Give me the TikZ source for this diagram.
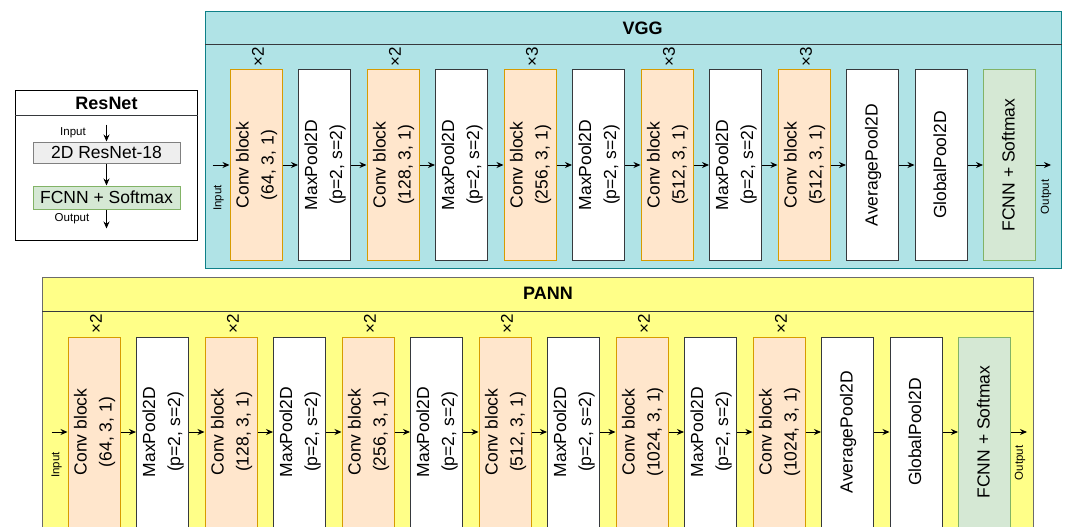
\documentclass[tikz,border=0pt]{standalone}
\usepackage{fontspec}
\setmainfont{Liberation Sans}
\usetikzlibrary{arrows.meta, positioning, calc}
\definecolor{vggbg}{HTML}{B0E3E6}
\definecolor{vggline}{HTML}{0E8088}
\definecolor{pannbg}{HTML}{FFFF88}
\definecolor{pannline}{HTML}{6B6B6B}
\definecolor{convbg}{HTML}{FFE6CC}
\definecolor{convline}{HTML}{D79B00}
\definecolor{fcbg}{HTML}{D5E8D4}
\definecolor{fcline}{HTML}{82B366}
\definecolor{resbg}{HTML}{EEEEEE}
\definecolor{darkline}{HTML}{36393D}

\newcommand{\vtext}[1]{\rotatebox{90}{\begin{tabular}{@{}c@{}}#1\end{tabular}}}

\begin{document}
\begin{tikzpicture}[
    x=1pt, y=1pt,
    >={Stealth[length=7pt,width=6pt]},
    block/.style={draw, line width=1pt, minimum width=52pt, minimum height=190pt,
                  inner sep=0pt, font=\fontsize{17.5}{25}\selectfont},
    conv/.style={block, fill=convbg, draw=convline},
    pool/.style={block, fill=white, draw=darkline},
    fcnn/.style={block, fill=fcbg, draw=fcline},
    panel/.style={line width=1pt, anchor=north west, inner sep=0pt},
    title/.style={font=\fontsize{18}{20}\selectfont\bfseries},
    tag/.style={font=\fontsize{11.5}{13}\selectfont, inner sep=0pt},
    mult/.style={font=\fontsize{17}{18}\selectfont, inner sep=0pt, anchor=south},
    arrow/.style={->, line width=1pt, color=black},
]
    \useasboundingbox (0,0) rectangle (1065,-527);
    \clip (0,0) rectangle (1065,-527);

    % ResNet panel
    \node[panel, draw=black, fill=white, minimum width=182pt, minimum height=150pt] (resnet) at (15,-90) {};
    \draw[line width=1pt, darkline] ($(resnet.north west)+(0,-25)$) -- ($(resnet.north east)+(0,-25)$);
    \node[title] at ($(resnet.north)+(0,-13)$) {ResNet};
    \node[draw=gray, fill=resbg, line width=1pt, minimum width=147pt, minimum height=21pt, inner sep=0pt,
          font=\fontsize{17.5}{20}\selectfont] (r1) at (106.5,-152.5) {2D ResNet-18};
    \node[draw=fcline, fill=fcbg, line width=1pt, minimum width=147pt, minimum height=23pt, inner sep=0pt,
          font=\fontsize{17.5}{20}\selectfont, below=22pt of r1] (r2) {FCNN + Softmax};
    \coordinate (rin) at ($(r1.north)+(0,17)$);
    \coordinate (rout) at ($(r2.south)+(0,-19)$);
    \draw[arrow] (rin) -- (r1);
    \draw[arrow] (r1) -- (r2);
    \draw[arrow] (r2) -- (rout);
    \node[tag] at (73,-133) {Input};
    \node[tag] at (72,-219) {Output};

    % VGG panel
    \node[panel, draw=vggline, fill=vggbg, minimum width=856pt, minimum height=257pt] (vgg) at (205,-11) {};
    \draw[line width=1pt, darkline] ($(vgg.north west)+(0,-34)$) -- ($(vgg.north east)+(0,-34)$);
    \node[title] at ($(vgg.north)+(9,-17)$) {VGG};

    \node[conv] (v1) at (256,-165) {\vtext{Conv block\\(64, 3, 1)}};
    \node[pool, right=15.5pt of v1] (v2) {\vtext{MaxPool2D\\(p=2, s=2)}};
    \node[conv, right=15.5pt of v2] (v3) {\vtext{Conv block\\(128, 3, 1)}};
    \node[pool, right=15.5pt of v3] (v4) {\vtext{MaxPool2D\\(p=2, s=2)}};
    \node[conv, right=15.5pt of v4] (v5) {\vtext{Conv block\\(256, 3, 1)}};
    \node[pool, right=15.5pt of v5] (v6) {\vtext{MaxPool2D\\(p=2, s=2)}};
    \node[conv, right=15.5pt of v6] (v7) {\vtext{Conv block\\(512, 3, 1)}};
    \node[pool, right=15.5pt of v7] (v8) {\vtext{MaxPool2D\\(p=2, s=2)}};
    \node[conv, right=15.5pt of v8] (v9) {\vtext{Conv block\\(512, 3, 1)}};
    \node[pool, right=15.5pt of v9] (v10) {\vtext{AveragePool2D}};
    \node[pool, right=15.5pt of v10] (v11) {\vtext{GlobalPool2D}};
    \node[fcnn, right=15.5pt of v11] (v12) {\vtext{FCNN + Softmax}};

    \draw[arrow] (v1) -- (v2);
    \draw[arrow] (v2) -- (v3);
    \draw[arrow] (v3) -- (v4);
    \draw[arrow] (v4) -- (v5);
    \draw[arrow] (v5) -- (v6);
    \draw[arrow] (v6) -- (v7);
    \draw[arrow] (v7) -- (v8);
    \draw[arrow] (v8) -- (v9);
    \draw[arrow] (v9) -- (v10);
    \draw[arrow] (v10) -- (v11);
    \draw[arrow] (v11) -- (v12);

    \coordinate (vin) at ($(v1.west)+(-17,0)$);
    \coordinate (vout) at ($(v12.east)+(15,0)$);
    \draw[arrow] (vin) -- (v1);
    \draw[arrow] (v12) -- (vout);
    \node[tag] at ($(v1.west)+(-11,-33)$) {\rotatebox{90}{Input}};
    \node[tag] at ($(v12.east)+(10,-32)$) {\rotatebox{90}{Output}};

    % Repetitions
    \node[mult] at ($(v1.north)+(2,3)$) {\rotatebox{90}{×2}};
    \node[mult] at ($(v3.north)+(2,3)$) {\rotatebox{90}{×2}};
    \node[mult] at ($(v5.north)+(2,3)$) {\rotatebox{90}{×3}};
    \node[mult] at ($(v7.north)+(2,3)$) {\rotatebox{90}{×3}};
    \node[mult] at ($(v9.north)+(2,3)$) {\rotatebox{90}{×3}};

    % PANN panel
    \node[panel, draw=pannline, fill=pannbg, minimum width=991pt, minimum height=258pt] (pann) at (42,-277) {};
    \draw[line width=1pt, darkline] ($(pann.north west)+(0,-34)$) -- ($(pann.north east)+(0,-34)$);
    \node[title] at ($(pann.north)+(10,-16)$) {PANN};

    \node[conv] (p1) at (94,-432) {\vtext{Conv block\\(64, 3, 1)}};
    \node[pool, right=15.5pt of p1] (p2) {\vtext{MaxPool2D\\(p=2, s=2)}};
    \node[conv, right=15.5pt of p2] (p3) {\vtext{Conv block\\(128, 3, 1)}};
    \node[pool, right=15.5pt of p3] (p4) {\vtext{MaxPool2D\\(p=2, s=2)}};
    \node[conv, right=15.5pt of p4] (p5) {\vtext{Conv block\\(256, 3, 1)}};
    \node[pool, right=15.5pt of p5] (p6) {\vtext{MaxPool2D\\(p=2, s=2)}};
    \node[conv, right=15.5pt of p6] (p7) {\vtext{Conv block\\(512, 3, 1)}};
    \node[pool, right=15.5pt of p7] (p8) {\vtext{MaxPool2D\\(p=2, s=2)}};
    \node[conv, right=15.5pt of p8] (p9) {\vtext{Conv block\\(1024, 3, 1)}};
    \node[pool, right=15.5pt of p9] (p10) {\vtext{MaxPool2D\\(p=2, s=2)}};
    \node[conv, right=15.5pt of p10] (p11) {\vtext{Conv block\\(1024, 3, 1)}};
    \node[pool, right=15.5pt of p11] (p12) {\vtext{AveragePool2D}};
    \node[pool, right=15.5pt of p12] (p13) {\vtext{GlobalPool2D}};
    \node[fcnn, right=15.5pt of p13] (p14) {\vtext{FCNN + Softmax}};

    \draw[arrow] (p1) -- (p2);
    \draw[arrow] (p2) -- (p3);
    \draw[arrow] (p3) -- (p4);
    \draw[arrow] (p4) -- (p5);
    \draw[arrow] (p5) -- (p6);
    \draw[arrow] (p6) -- (p7);
    \draw[arrow] (p7) -- (p8);
    \draw[arrow] (p8) -- (p9);
    \draw[arrow] (p9) -- (p10);
    \draw[arrow] (p10) -- (p11);
    \draw[arrow] (p11) -- (p12);
    \draw[arrow] (p12) -- (p13);
    \draw[arrow] (p13) -- (p14);

    \coordinate (pin) at ($(p1.west)+(-16,0)$);
    \coordinate (pout) at ($(p14.east)+(16,0)$);
    \draw[arrow] (pin) -- (p1);
    \draw[arrow] (p14) -- (pout);
    \node[tag] at ($(p1.west)+(-11,-33)$) {\rotatebox{90}{Input}};
    \node[tag] at ($(p14.east)+(9,-31)$) {\rotatebox{90}{Output}};

    % Repetitions
    \node[mult] at ($(p1.north)+(2,3)$) {\rotatebox{90}{×2}};
    \node[mult] at ($(p3.north)+(2,3)$) {\rotatebox{90}{×2}};
    \node[mult] at ($(p5.north)+(2,3)$) {\rotatebox{90}{×2}};
    \node[mult] at ($(p7.north)+(2,3)$) {\rotatebox{90}{×2}};
    \node[mult] at ($(p9.north)+(2,3)$) {\rotatebox{90}{×2}};
    \node[mult] at ($(p11.north)+(2,3)$) {\rotatebox{90}{×2}};
\end{tikzpicture}
\end{document}
